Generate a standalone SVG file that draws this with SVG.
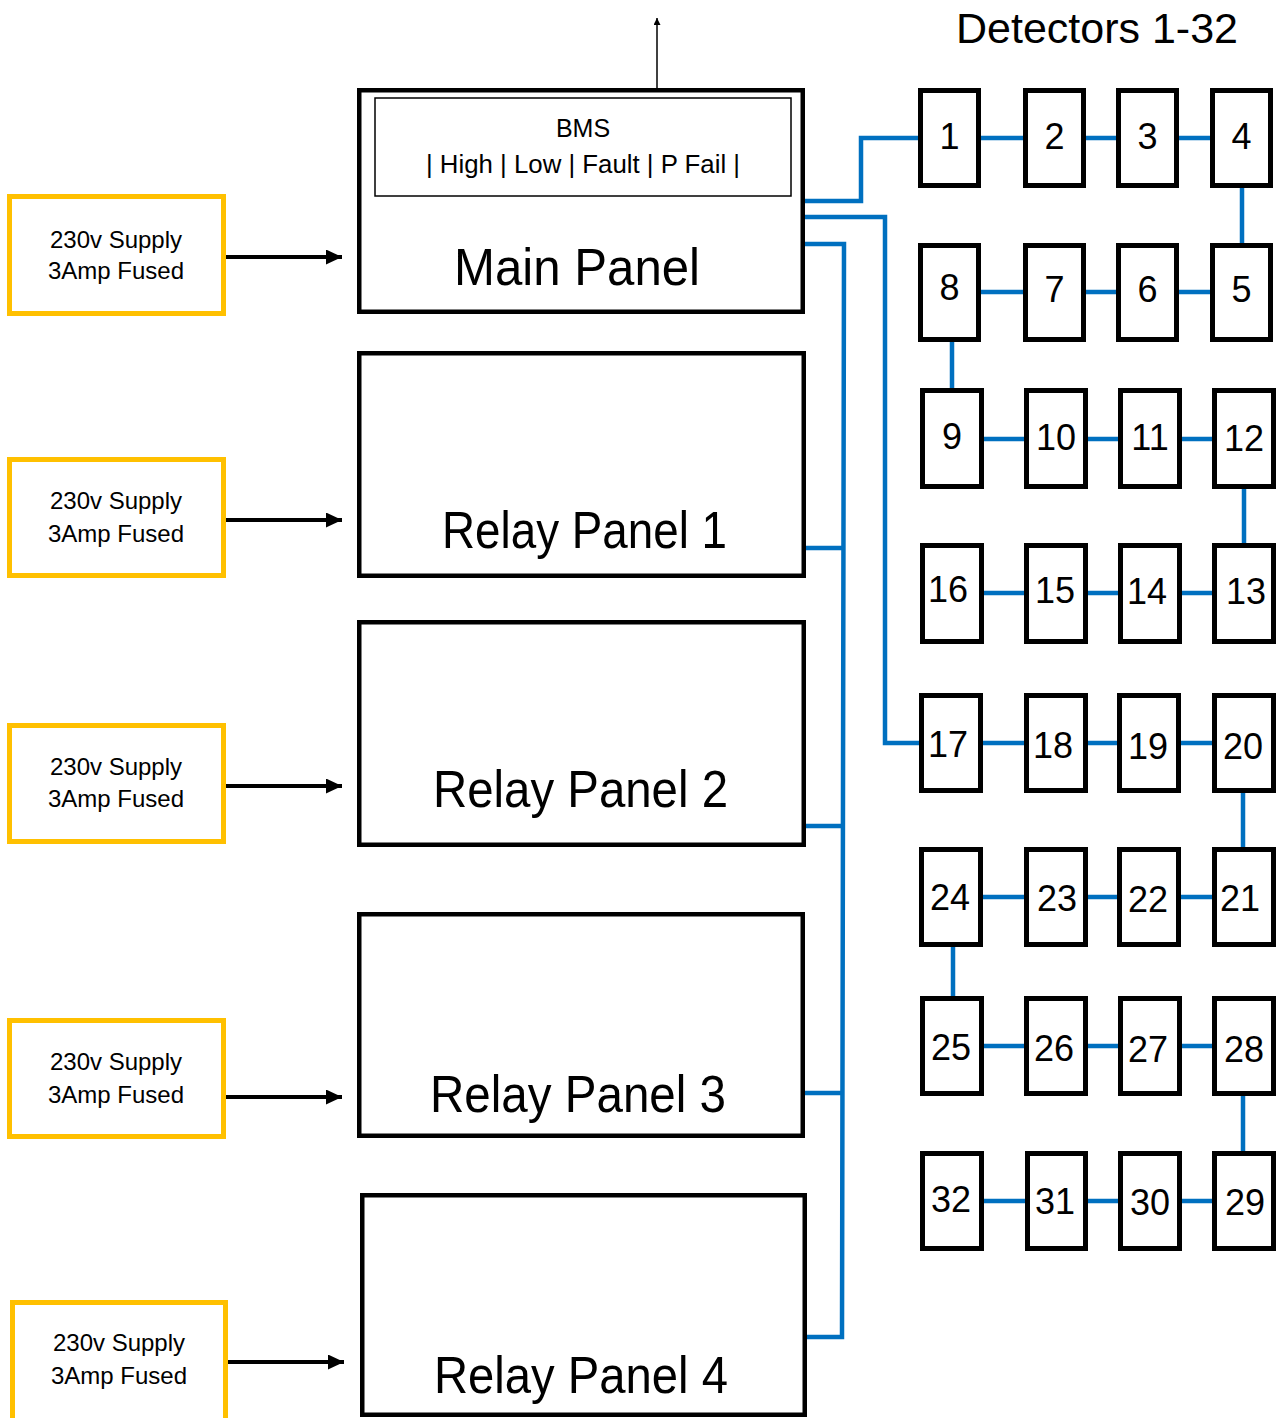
<svg xmlns="http://www.w3.org/2000/svg" width="1277" height="1418" viewBox="0 0 1277 1418">
<style>
text{font-family:"Liberation Sans",Arial,sans-serif;fill:#000;text-anchor:middle}
.panel{fill:#fff;stroke:#000;stroke-width:4.5}
.supply{fill:#fff;stroke:#FFC000;stroke-width:5}
.det{fill:#fff;stroke:#000;stroke-width:5}
.bms{fill:none;stroke:#000;stroke-width:1.5}
.wire{fill:none;stroke:#0070C0;stroke-width:4.5}
.pw{stroke:#000;stroke-width:4}
.big{font-size:52px}
.sup{font-size:24px}
.num{font-size:36px}
</style>
<defs>
<marker id="ah" viewBox="0 0 16 15" refX="16" refY="7.5" markerWidth="16" markerHeight="15" markerUnits="userSpaceOnUse" orient="auto">
<path d="M0,0 L16,7.5 L0,15 Z" fill="#000"/>
</marker>
<marker id="ahs" viewBox="0 0 7 7" refX="7" refY="3.5" markerWidth="7" markerHeight="7" markerUnits="userSpaceOnUse" orient="auto">
<path d="M0,0 L7,3.5 L0,7 Z" fill="#000"/>
</marker>
</defs>
<rect width="1277" height="1418" fill="#fff"/>
<text x="1097" y="43" style="font-size:43px">Detectors 1-32</text>

<g id="connectors">
<path class="wire" d="M800,201 H861 V138 H925"/>
<path class="wire" d="M800,217 H885 V743 H925"/>
<path class="wire" d="M800,244 H844 L842,1337 H802"/>
<path class="wire" d="M800,548 H843 M800,826 H843 M800,1093 H842"/>
<path class="wire" d="M975,138 H1215 M975,292 H1215 M978,439 H1218 M978,593 H1218 M978,743 H1218 M978,897 H1218 M978,1046 H1218 M978,1201 H1218"/>
<path class="wire" d="M1242,185 V246 M952,339 V391 M1244,486 V546 M1243,790 V850 M953,944 V999 M1243,1093 V1154"/>
<line class="pw" x1="226" y1="257" x2="342" y2="257" marker-end="url(#ah)"/>
<line class="pw" x1="226" y1="520" x2="342" y2="520" marker-end="url(#ah)"/>
<line class="pw" x1="226" y1="786" x2="342" y2="786" marker-end="url(#ah)"/>
<line class="pw" x1="226" y1="1097" x2="342" y2="1097" marker-end="url(#ah)"/>
<line class="pw" x1="228" y1="1362" x2="344" y2="1362" marker-end="url(#ah)"/>
<line x1="657" y1="97" x2="657" y2="18" stroke="#000" stroke-width="1.5" marker-end="url(#ahs)"/>
</g>

<g id="main-panel">
<rect class="panel" x="359.25" y="90.25" width="443.5" height="221.5"/>
<rect class="bms" x="375" y="98" width="416" height="98"/>
<text x="583" y="137" style="font-size:25px">BMS</text>
<text x="583" y="173" style="font-size:26px" textLength="314" lengthAdjust="spacingAndGlyphs">| High | Low | Fault | P Fail |</text>
<text class="big" x="577" y="285" textLength="246" lengthAdjust="spacingAndGlyphs">Main Panel</text>
</g>
<g id="relay-panel-1">
<rect class="panel" x="359.25" y="353.25" width="444.5" height="222.5"/>
<text class="big" x="584.5" y="548" textLength="285" lengthAdjust="spacingAndGlyphs">Relay Panel 1</text>
</g>
<g id="relay-panel-2">
<rect class="panel" x="359.25" y="622.25" width="444.5" height="222.5"/>
<text class="big" x="580.5" y="807" textLength="295" lengthAdjust="spacingAndGlyphs">Relay Panel 2</text>
</g>
<g id="relay-panel-3">
<rect class="panel" x="359.25" y="914.25" width="443.5" height="221.5"/>
<text class="big" x="578" y="1112" textLength="296" lengthAdjust="spacingAndGlyphs">Relay Panel 3</text>
</g>
<g id="relay-panel-4">
<rect class="panel" x="362.25" y="1195.25" width="442.5" height="219.5"/>
<text class="big" x="581" y="1393" textLength="294" lengthAdjust="spacingAndGlyphs">Relay Panel 4</text>
</g>

<g id="supply-1">
<rect class="supply" x="9.5" y="196.5" width="214" height="117"/>
<text class="sup" x="116" y="248">230v Supply</text>
<text class="sup" x="116" y="279">3Amp Fused</text>
</g>
<g id="supply-2">
<rect class="supply" x="9.5" y="459.5" width="214" height="116"/>
<text class="sup" x="116" y="509">230v Supply</text>
<text class="sup" x="116" y="542">3Amp Fused</text>
</g>
<g id="supply-3">
<rect class="supply" x="9.5" y="725.5" width="214" height="116"/>
<text class="sup" x="116" y="775">230v Supply</text>
<text class="sup" x="116" y="807">3Amp Fused</text>
</g>
<g id="supply-4">
<rect class="supply" x="9.5" y="1020.5" width="214" height="116"/>
<text class="sup" x="116" y="1070">230v Supply</text>
<text class="sup" x="116" y="1103">3Amp Fused</text>
</g>
<g id="supply-5">
<rect class="supply" x="12.5" y="1302.5" width="213" height="118"/>
<text class="sup" x="119" y="1351">230v Supply</text>
<text class="sup" x="119" y="1384">3Amp Fused</text>
</g>

<g id="det-1"><rect class="det" x="920.5" y="90.5" width="58" height="95"/><text class="num" x="949.5" y="149">1</text></g>
<g id="det-2"><rect class="det" x="1025.5" y="90.5" width="58" height="95"/><text class="num" x="1054.5" y="149">2</text></g>
<g id="det-3"><rect class="det" x="1118.5" y="90.5" width="58" height="95"/><text class="num" x="1147.5" y="149">3</text></g>
<g id="det-4"><rect class="det" x="1212.5" y="90.5" width="58" height="95"/><text class="num" x="1241.5" y="149">4</text></g>

<g id="det-8"><rect class="det" x="920.5" y="245.5" width="58" height="94"/><text class="num" x="949.5" y="300">8</text></g>
<g id="det-7"><rect class="det" x="1025.5" y="245.5" width="58" height="94"/><text class="num" x="1054.5" y="302">7</text></g>
<g id="det-6"><rect class="det" x="1118.5" y="245.5" width="58" height="94"/><text class="num" x="1147.5" y="302">6</text></g>
<g id="det-5"><rect class="det" x="1212.5" y="245.5" width="58" height="94"/><text class="num" x="1241.5" y="302">5</text></g>

<g id="det-9"><rect class="det" x="922.5" y="390.5" width="59" height="96"/><text class="num" x="952" y="449">9</text></g>
<g id="det-10"><rect class="det" x="1026.5" y="390.5" width="59" height="96"/><text class="num" x="1056" y="450">10</text></g>
<g id="det-11"><rect class="det" x="1120.5" y="390.5" width="59" height="96"/><text class="num" x="1150" y="450">11</text></g>
<g id="det-12"><rect class="det" x="1214.5" y="390.5" width="59" height="96"/><text class="num" x="1244" y="451">12</text></g>

<g id="det-16"><rect class="det" x="922.5" y="545.5" width="59" height="96"/><text class="num" x="948" y="602">16</text></g>
<g id="det-15"><rect class="det" x="1026.5" y="545.5" width="59" height="96"/><text class="num" x="1055" y="603">15</text></g>
<g id="det-14"><rect class="det" x="1120.5" y="545.5" width="59" height="96"/><text class="num" x="1147" y="604">14</text></g>
<g id="det-13"><rect class="det" x="1214.5" y="545.5" width="59" height="96"/><text class="num" x="1246" y="604">13</text></g>

<g id="det-17"><rect class="det" x="921.5" y="695.5" width="59" height="95"/><text class="num" x="948" y="757">17</text></g>
<g id="det-18"><rect class="det" x="1026.5" y="695.5" width="59" height="95"/><text class="num" x="1053" y="758">18</text></g>
<g id="det-19"><rect class="det" x="1119.5" y="695.5" width="59" height="95"/><text class="num" x="1148" y="759">19</text></g>
<g id="det-20"><rect class="det" x="1214.5" y="695.5" width="59" height="95"/><text class="num" x="1243" y="759">20</text></g>

<g id="det-24"><rect class="det" x="921.5" y="849.5" width="59" height="95"/><text class="num" x="950" y="910">24</text></g>
<g id="det-23"><rect class="det" x="1026.5" y="849.5" width="59" height="95"/><text class="num" x="1057" y="911">23</text></g>
<g id="det-22"><rect class="det" x="1119.5" y="849.5" width="59" height="95"/><text class="num" x="1148" y="912">22</text></g>
<g id="det-21"><rect class="det" x="1214.5" y="849.5" width="59" height="95"/><text class="num" x="1240" y="911">21</text></g>

<g id="det-25"><rect class="det" x="922.5" y="998.5" width="59" height="95"/><text class="num" x="951" y="1060">25</text></g>
<g id="det-26"><rect class="det" x="1026.5" y="998.5" width="59" height="95"/><text class="num" x="1054" y="1061">26</text></g>
<g id="det-27"><rect class="det" x="1120.5" y="998.5" width="59" height="95"/><text class="num" x="1148" y="1062">27</text></g>
<g id="det-28"><rect class="det" x="1214.5" y="998.5" width="59" height="95"/><text class="num" x="1244" y="1062">28</text></g>

<g id="det-32"><rect class="det" x="922.5" y="1153.5" width="59" height="95"/><text class="num" x="951" y="1212">32</text></g>
<g id="det-31"><rect class="det" x="1027.5" y="1153.5" width="58" height="95"/><text class="num" x="1055" y="1214">31</text></g>
<g id="det-30"><rect class="det" x="1120.5" y="1153.5" width="59" height="95"/><text class="num" x="1150" y="1215">30</text></g>
<g id="det-29"><rect class="det" x="1214.5" y="1153.5" width="59" height="95"/><text class="num" x="1245" y="1215">29</text></g>
</svg>
